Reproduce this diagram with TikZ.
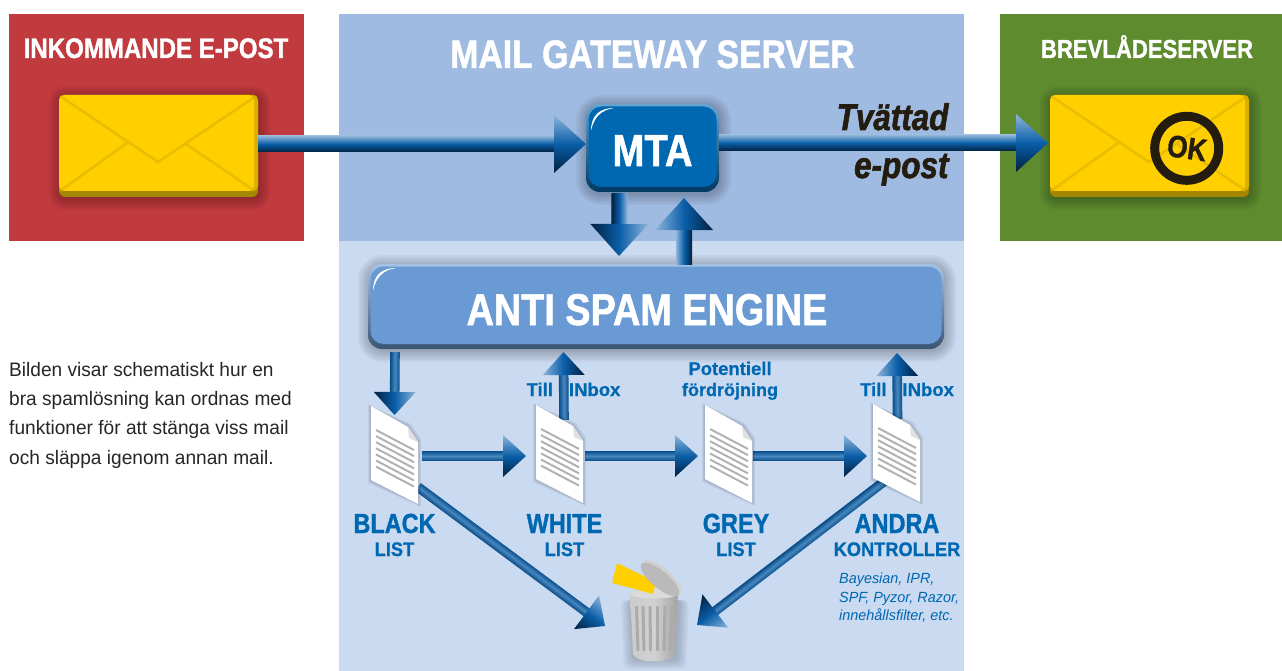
\documentclass[tikz,border=0pt]{standalone}
\usepackage{fontspec}
\usepackage{tikz}
\usetikzlibrary{calc}
\newfontfamily\headfont[FakeStretch=.85,BoldFeatures={FakeBold=1.2},BoldItalicFeatures={FakeBold=1.6}]{Liberation Sans}
\newfontfamily\midfont[FakeStretch=.93,BoldFeatures={FakeBold=.8}]{Liberation Sans}
\newfontfamily\smallfont[BoldFeatures={FakeBold=.5}]{Liberation Sans}
\newfontfamily\bodyfont[FakeStretch=.98]{Liberation Sans}

\definecolor{redpanel}{HTML}{C13A3E}
\definecolor{uppanel}{HTML}{A0BBE1}
\definecolor{lowpanel}{HTML}{CADAF1}
\definecolor{greenpanel}{HTML}{5E8B2E}
\definecolor{mailyellow}{HTML}{FFCF00}
\definecolor{mailrim}{HTML}{A58600}
\definecolor{mailfold}{HTML}{D8AF00}
\definecolor{labelblue}{HTML}{0067B1}
\definecolor{enginefill}{HTML}{6A9AD3}
\definecolor{arrowlight}{HTML}{8FB5DA}
\definecolor{arrowblue}{HTML}{0A5EA8}
\definecolor{arrowdark}{HTML}{01203F}
\definecolor{inkblack}{HTML}{231C0F}

\tikzset{
  panel/.style={anchor=north west,inner sep=0pt,outer sep=0pt},
  sizedbox/.style={inner sep=0pt,outer sep=0pt},
  pagebox/.style={minimum width=47pt,minimum height=98pt,inner sep=0pt,outer sep=0pt},
  title/.style={anchor=base,text=white,font=\headfont\bfseries\fontsize{#1}{#1}\selectfont},
  bluelabel/.style={anchor=base,text=labelblue,font=\headfont\bfseries\fontsize{#1}{#1}\selectfont},
  bluesub/.style={anchor=base,text=labelblue,font=\midfont\bfseries\fontsize{#1}{#1}\selectfont},
  bluesmall/.style={anchor=base,text=labelblue,font=\smallfont\bfseries\fontsize{#1}{#1}\selectfont},
  bigshaft/.style={top color=arrowlight,bottom color=arrowdark,middle color=arrowblue},
  smallshaft/.style={top color=arrowblue!85!black,bottom color=arrowblue!80!black,middle color=arrowblue!75!white},
}

% shaded arrow in its own frame: name of style, from, to, shaft, head length, head half width
\newcommand{\fatarrow}[6]{
  \path (#2); \pgfgetlastxy{\xa}{\ya}
  \path (#3); \pgfgetlastxy{\xb}{\yb}
  \pgfmathsetmacro\arrowang{atan2(\yb-\ya,\xb-\xa)}
  \pgfmathsetmacro\arrowlen{veclen(\xb-\xa,\yb-\ya)}
  \pgfmathsetmacro\arrowbase{\arrowlen-#5}
  \begin{scope}[transform canvas={shift={(\xa,\ya)},rotate=\arrowang}]
    \shade[#1] (0pt,-#4pt) rectangle (\arrowbase pt+1pt,#4pt);
    \shade[top color=arrowlight,bottom color=arrowdark,middle color=arrowblue]
      (\arrowbase pt,-#6pt) -- (\arrowbase pt,#6pt) -- (\arrowlen pt,0pt) -- cycle;
  \end{scope}
}
\newcommand{\bigarrow}[2]{\fatarrow{bigshaft}{#1}{#2}{8}{32}{29}}
\newcommand{\smallarrow}[2]{\fatarrow{smallshaft}{#1}{#2}{4.8}{23}{21}}

% layers of a soft shadow round a node
\newcommand{\softshadow}[2]{
  \foreach \g in {11,9,...,1}{
    \fill[black,opacity=.038,rounded corners=#2+\g*1pt]
      ([shift={(-\g pt+1pt,\g pt-2pt)}]#1.north west) rectangle ([shift={(\g pt+1pt,-\g pt-2pt)}]#1.south east);
  }
}
% envelope on the place of its node
\newcommand{\envelopeface}[1]{
  \softshadow{#1}{6pt}
  \fill[mailrim,rounded corners=6pt] (#1.north west) rectangle (#1.south east);
  \begin{scope}[shift={(#1.north west)}]
    \fill[mailyellow!85!black,rounded corners=5pt] (180,0) rectangle (199,96);
    \fill[mailyellow,rounded corners=5pt] (0,0) rectangle (195,96);
    \foreach \w/\o in {4/.12,2.5/.2,1/.6}{
      \draw[mailfold,line width=\w pt,opacity=\o] (1,1) -- (99,67) -- (197,1);
      \draw[mailfold,line width=\w pt,opacity=\o] (1,96) -- (68,48);
      \draw[mailfold,line width=\w pt,opacity=\o] (196,96) -- (127,49);
    }
  \end{scope}
}
% gel box with rim and white gloss on the place of its node
\newcommand{\gelface}[2]{
  \softshadow{#1}{14pt}
  \shade[top color=#2!60!white,bottom color=#2!55!black,rounded corners=14pt] (#1.north west) rectangle (#1.south east);
  \fill[#2,rounded corners=13pt] ([shift={(2.5pt,-2.5pt)}]#1.north west) rectangle ([shift={(-2.5pt,5pt)}]#1.south east);
  \begin{scope}[shift={(#1.north west)}]
    \fill[white] (5,27) .. controls (5,11) and (14,4) .. (28,4) .. controls (16,6) and (8,12) .. (5,27);
  \end{scope}
}

\begin{document}
\begin{tikzpicture}[x=1pt,y=-1pt]
  \useasboundingbox (0,0) rectangle (1282,671);
  % Drawing panels
  \node[panel,fill=redpanel,minimum width=295pt,minimum height=227pt] (inpanel) at (9,14) {};
  \node[panel,fill=uppanel,minimum width=625pt,minimum height=227pt] (gatewaypanel) at (339,14) {};
  \node[panel,fill=lowpanel,minimum width=625pt,minimum height=430pt] (spampanel) at (339,241) {};
  \node[panel,fill=greenpanel,minimum width=282pt,minimum height=227pt] (outpanel) at (1000,14) {};
  % Panel titles
  \node[title=28.3] (intitle) at (156,58) {INKOMMANDE E-POST};
  \node[title=39.7] (gatewaytitle) at (652.5,68) {MAIL GATEWAY SERVER};
  \node[title=26] (outtitle) at (1147,58) {BREVLÅDESERVER};
  % Drawing envelopes
  \node[sizedbox,minimum width=199pt,minimum height=102pt] (inmail) at (158.5,146) {};
  \node[sizedbox,minimum width=199pt,minimum height=102pt] (outmail) at (1149.5,146) {};
  \envelopeface{inmail}
  \envelopeface{outmail}
  \draw[inkblack,line width=9pt] (1186.7,148.3) circle (32);
  \node[anchor=center,rotate=-8,text=inkblack,font=\headfont\bfseries\fontsize{31}{31}\selectfont] (oklabel) at (1187,148) {OK};
  % Drawing gel boxes
  \node[sizedbox,minimum width=133pt,minimum height=88pt] (mta) at (652.5,148) {};
  \node[sizedbox,minimum width=576pt,minimum height=85pt] (engine) at (656,306.5) {};
  \gelface{mta}{labelblue}
  \gelface{engine}{enginefill}
  \node[title=45] (mtalabel) at (652.5,166) {MTA};
  \node[title=44.5] (enginelabel) at (647,325) {ANTI SPAM ENGINE};
  % Drawing the big arrows
  \bigarrow{[yshift=2pt]inmail.east}{[yshift=4pt]mta.west}
  \bigarrow{[yshift=5pt]mta.east}{[shift={(-2pt,3pt)}]outmail.west}
  \bigarrow{[xshift=-33pt,yshift=-1pt]mta.south}{[shift={(-37pt,8pt)}]engine.north}
  \bigarrow{[xshift=28pt]engine.north}{[shift={(31.5pt,-6pt)}]mta.south}
  \node[anchor=base east,text=inkblack,font=\headfont\bfseries\itshape\fontsize{37}{37}\selectfont] (washed) at (952,130) {Tvättad};
  \node[anchor=base east,text=inkblack,font=\headfont\bfseries\itshape\fontsize{37}{37}\selectfont] (washedb) at (952,178) {e-post};
  % Drawing labels of the lists
  \node[bluesmall=18.5] (tillwhite) at (573.5,396) {Till\hspace{16pt}INbox};
  \node[bluesmall=18.5] (tillandra) at (907,396) {Till\hspace{16pt}INbox};
  \node[bluesmall=18.5] (delay) at (730,375) {Potentiell};
  \node[bluesmall=18] (delayb) at (730,396) {fördröjning};
  \foreach \name/\x/\big/\small in {black/394.5/BLACK/LIST,white/564.5/WHITE/LIST,grey/736/GREY/LIST,andra/897/ANDRA/KONTROLLER}{
    \node[bluelabel=27.6] (\name title) at (\x,533) {\big};
    \node[bluesub=19.6] (\name sub) at (\x,556) {\small};
  }
  \node[anchor=north west,align=left,inner sep=0pt,text=labelblue,font=\bodyfont\itshape\fontsize{14.7}{18.5}\selectfont] (andranote) at (839,573) {Bayesian, IPR,\\SPF, Pyzor, Razor,\\innehållsfilter, etc.};
  \node[anchor=north west,align=left,inner sep=0pt,text=black!85,font=\bodyfont\fontsize{19.5}{29.3}\selectfont] (sidetext) at (9,362) {Bilden visar schematiskt hur en\\bra spamlösning kan ordnas med\\funktioner för att stänga viss mail\\och släppa igenom annan mail.};
  % Pages for the lists, only their nodes here
  \foreach \name/\x/\y in {black/394.5/455,white/559.5/454,grey/728.5/454,andra/896.5/453}{
    \node[pagebox] (\name) at (\x,\y) {};
  }
  \coordinate (trashleft) at (605,626);
  \coordinate (trashright) at (697,625);
  \coordinate (blackout) at (418,487);
  \coordinate (andraout) at (886,480);
  % Drawing the small arrows
  \smallarrow{[xshift=-261pt,yshift=-3pt]engine.south}{[yshift=-9pt]black.north}
  \smallarrow{[shift={(4.5pt,-15pt)}]white.north}{[xshift=-92.5pt,yshift=-3pt]engine.south}
  \smallarrow{[shift={(1pt,-15pt)}]andra.north}{[xshift=241pt,yshift=-4pt]engine.south}
  \smallarrow{[shift={(4pt,-1pt)}]black.east}{[shift={(-10pt,-2pt)}]white.west}
  \smallarrow{[shift={(2pt,-2pt)}]white.east}{[shift={(-7pt,-2pt)}]grey.west}
  \smallarrow{[shift={(1pt,-2pt)}]grey.east}{[shift={(-6pt,-3pt)}]andra.west}
  \smallarrow{blackout}{trashleft}
  \smallarrow{andraout}{trashright}
  % Drawing pages
  \foreach \name in {black,white,grey,andra}{
    \begin{scope}[shift={(\name.north west)}]
      \foreach \g in {3,2,1}{
        \fill[black,opacity=.06] (-\g,-\g*.5) -- (37+\g,21-\g) -- (47+\g,36-\g) -- (47+\g,98+\g) -- (-\g,74+\g) -- cycle;
      }
      \fill[white] (0,0) -- (37,21) -- (47,36) -- (47,98) -- (0,74) -- cycle;
      \fill[black!12] (37,21) -- (47,36) -- (38,32) -- cycle;
      \foreach \s in {0,...,6}{
        \draw[black!30,line width=2pt] (5,\s*6.1+24) -- (43,\s*6.1+44);
      }
    \end{scope}
  }
  % Drawing the trash can
  \node[inner sep=0pt,minimum width=48pt,minimum height=69pt] (trash) at (654,627) {};
  \foreach \g in {9,7,...,1}{
    \fill[black,opacity=.04,rounded corners=6pt] (630-\g,600) -- (680+\g,600) -- (677+\g,660+\g) -- (633-\g,660+\g) -- cycle;
  }
  \shade[left color=black!20,right color=black!36,middle color=black!18]
    (630,594) -- (678,594) -- (675,654) .. controls (672,664) and (637,664) .. (633,654) -- cycle;
  \fill[black!14] (654,594) ellipse (24 and 4.5);
  \foreach \x/\b in {636.5/638,643/644,650/650.5,657/657,665/664,672/670}{
    \draw[black!33,line width=3pt,line cap=round] (\x,607) -- (\b,650);
  }
  \fill[mailyellow,rounded corners=1pt] (617,563) -- (656,582) -- (653,594) -- (612,583) -- cycle;
  \fill[black!18,rotate around={-40:(661,578)}] (661,578) ellipse (25 and 10);
  \fill[black!27,rotate around={-40:(660,579.5)}] (660,579.5) ellipse (24 and 8.5);
\end{tikzpicture}
\end{document}
